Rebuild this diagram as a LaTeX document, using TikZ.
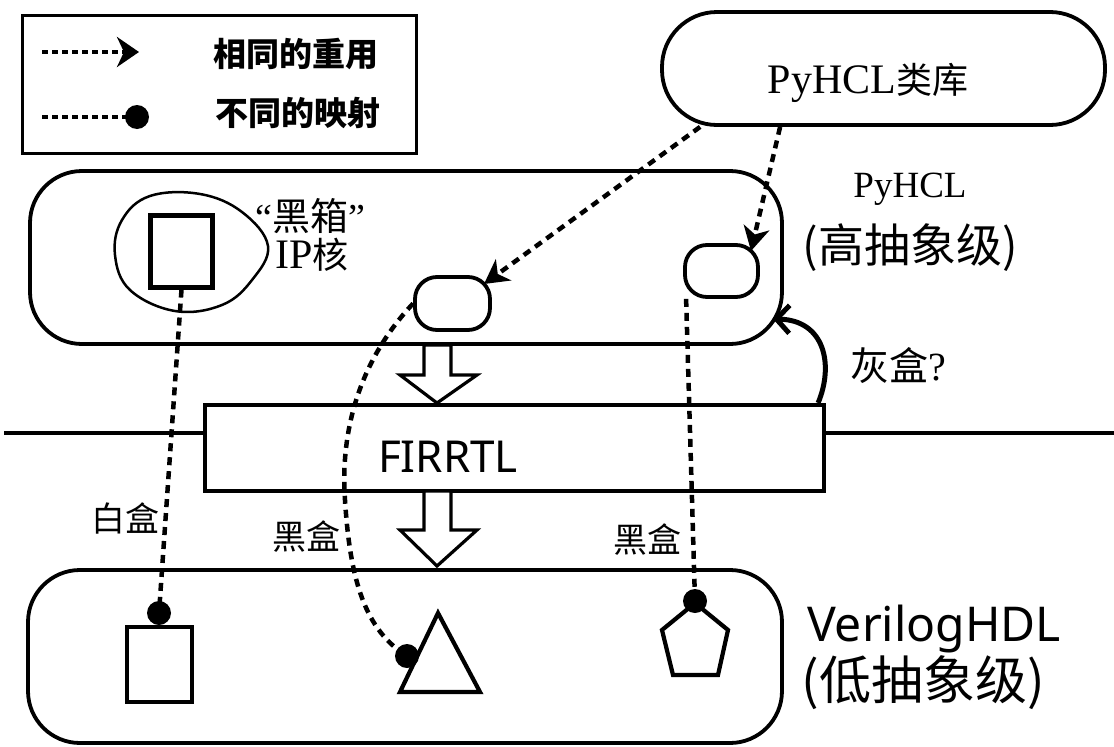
\documentclass[tikz,border=0pt]{standalone}
\usepackage{fontspec}
\setmainfont{Liberation Serif}
\newfontfamily\cjk{Noto Sans CJK SC}
\newfontfamily\latinsans{Noto Sans}
\usetikzlibrary{arrows.meta,calc}
\newcommand\fsz[1]{\fontsize{#1}{#1}\selectfont}

\begin{document}
\begin{tikzpicture}[x=1pt,y=-1pt,
  box/.style={draw,line width=3.8pt,rounded corners=52pt,inner sep=0pt},
  pill/.style={draw,line width=3.8pt,rounded corners=22pt,inner sep=0pt,
    minimum width=73pt,minimum height=52pt},
  frame/.style={draw,line width=4.2pt,inner sep=0pt},
  txt/.style={inner sep=0pt,outer sep=0pt},
  reuse/.style={line width=4.5pt,dash pattern=on 8pt off 6pt,
    -{Stealth[length=24pt,width=26pt,inset=7pt]}},
  mapline/.style={line width=4.5pt,dash pattern=on 8pt off 6pt},
  legline/.style={line width=4.5pt,dash pattern=on 6pt off 4pt},
  dot/.style={circle,fill,inner sep=0pt,minimum size=24pt},
  hollow/.style={draw,line width=3.2pt,fill=white,line join=miter},
  outline/.style={draw,line width=4.2pt,line join=miter}
]
\useasboundingbox (0,0) rectangle (1114,747);

% legend
\node[draw,line width=3pt,inner sep=0pt,minimum width=394pt,minimum height=138pt] (legend) at (219,84) {};
\coordinate (l1a) at (42,52);
\coordinate (l1b) at (139,52);
\draw[legline,-{Stealth[length=22pt,width=30pt,inset=7pt]}] (l1a) -- (l1b);
\node[dot] (ld) at (137,117) {};
\coordinate (l2a) at (42,117);
\draw[legline] (l2a) -- (ld.center);
\node[txt,font=\cjk\bfseries\fsz{33}] (lt1) at (296,54) {相同的重用};
\node[txt,font=\cjk\bfseries\fsz{33}] (lt2) at (298,113) {不同的映射};

% class library
\node[box,rounded corners=55pt,minimum width=443pt,minimum height=113pt] (lib) at (883.5,68.5) {};
\node[txt,anchor=base] (libt) at (868,93) {\fsz{42}PyHCL{\cjk\fsz{36}类库}};

% high level frame
\node[box,minimum width=752pt,minimum height=173pt] (hi) at (406,257.5) {};
\node[txt,anchor=base] (hit) at (910,197) {\fsz{37}PyHCL};
\node[txt,font=\cjk\fsz{46}] (hil) at (910,248) {(高抽象级)};

% black box IP core
\draw[line width=2.5pt] plot[smooth cycle,tension=0.65] coordinates
  {(268,246) (242,212) (200,194) (150,196) (122,220) (115,255) (130,290) (175,311) (222,305) (252,280)};
\node[frame,minimum width=62pt,minimum height=72pt] (sqA) at (181.5,251.5) {};
\node[txt,anchor=base] (bbq) at (310,230) {\fsz{38}“{\cjk 黑箱}”};
\node[txt,anchor=base] (ipk) at (312,268) {\fsz{42}IP{\cjk\fsz{36}核}};

% modules built from the library
\node[pill,minimum width=75pt,minimum height=53pt] (pm) at (452.5,303.5) {};
\node[pill] (pr) at (721.5,271) {};

% FIRRTL layer
\node[frame,minimum width=619pt,minimum height=86pt] (fir) at (514.5,448) {};
\node[txt,font=\latinsans\fsz{44}] (firt) at (448,457) {FIRRTL};
\coordinate (eL) at (4,433);
\coordinate (eR) at (1114,433);
\draw[line width=4pt] (eL) -- (eL -| fir.west);
\draw[line width=4pt] (fir.east |- eR) -- (eR);

% compile arrows
\draw[hollow] (424,345) -- (424,375) -- (400,375) -- (437,403) -- (477,375) -- (451,375) -- (451,345) -- cycle;
\draw[hollow] (424,491) -- (424,530) -- (400,530) -- (437,566) -- (477,530) -- (451,530) -- (451,491) -- cycle;

% low level frame
\node[box,minimum width=754pt,minimum height=173pt] (lo) at (405,656.5) {};
\node[txt,anchor=base,font=\latinsans\fsz{48}] (lot) at (934,641) {VerilogHDL};
\node[txt,font=\cjk\fsz{52}] (lol) at (923,683) {(低抽象级)};

\node[frame,minimum width=65pt,minimum height=75pt] (sqB) at (159.5,664.5) {};
\draw[outline] (438,613) -- (400,692) -- (480,692) -- cycle;
\draw[outline] (695,603) -- (728,630) -- (718,675) -- (673,675) -- (662,630) -- cycle;

% reuse arrows
\coordinate (tipM) at (484,284);
\coordinate (tipR) at (751,251);
\draw[reuse] ($(lib.south west)+(40,0)$) -- (tipM);
\draw[reuse] ($(lib.south west)+(120,0)$) -- (tipR);

% mapping lines
\node[dot] (dA) at (159,613) {};
\node[dot] (dB) at (407,656) {};
\node[dot] (dC) at (695,601) {};
\draw[mapline] (sqA.south) -- (dA.center);
\draw[mapline] (pm.west) .. controls (360,360) and (340,430) .. (345,500)
  .. controls (350,580) and (365,630) .. (dB.center);
\draw[mapline] ($(pr.south west)+(3,0)$) -- (dC.center);

% labels
\node[txt,font=\cjk\fsz{34}] (wb) at (125,518) {白盒};
\node[txt,font=\cjk\fsz{34}] (bb1) at (306,537) {黑盒};
\node[txt,font=\cjk\fsz{34}] (bb2) at (647,540) {黑盒};

% grey box question
\coordinate (grayTip) at (773,319);
\draw[line width=5pt,-{Straight Barb[length=13pt,width=28pt]}]
  ($(fir.north east)+(-8,0)$) .. controls (834,365) and (825,320) .. (grayTip);
\node[txt,anchor=base] (gb) at (898,380) {{\cjk\fsz{39}灰盒}\fsz{40}?};
\end{tikzpicture}
\end{document}
